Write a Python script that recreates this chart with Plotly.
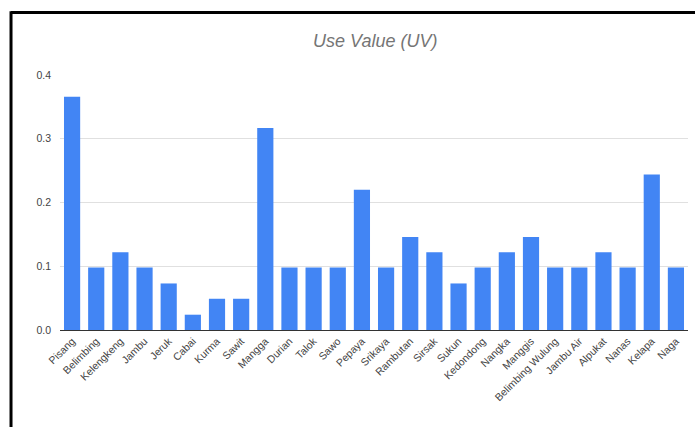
import plotly.graph_objects as go

categories = ["Pisang", "Belimbing", "Kelengkeng", "Jambu", "Jeruk", "Cabai", "Kurma", "Sawit",
              "Mangga", "Durian", "Talok", "Sawo", "Pepaya", "Srikaya", "Rambutan", "Sirsak",
              "Sukun", "Kedondong", "Nangka", "Manggis", "Belimbing Wulung", "Jambu Air",
              "Alpukat", "Nanas", "Kelapa", "Naga"]
uv_values = [0.366, 0.098, 0.122, 0.098, 0.073, 0.024, 0.049, 0.049,
             0.317, 0.098, 0.098, 0.098, 0.220, 0.098, 0.146, 0.122,
             0.073, 0.098, 0.122, 0.146, 0.098, 0.098,
             0.122, 0.098, 0.244, 0.098]
y_ticks = [0.0, 0.1, 0.2, 0.3, 0.4]

fig = go.Figure(go.Bar(x=categories, y=uv_values, marker_color="#4285F4",
                       marker_line_width=0))

fig.update_layout(
    width=695, height=427,
    margin=dict(l=60, r=7, t=75, b=97),
    paper_bgcolor="white", plot_bgcolor="white",
    bargap=0.33,
    showlegend=False,
    font=dict(family="Liberation Sans, Arial, sans-serif", color="#444"),
    title=dict(text="<i>Use Value (UV)</i>", x=0.54, xanchor="center", y=0.905, yanchor="middle",
               font=dict(size=18, color="#757575")),
    shapes=[
        dict(type="line", xref="paper", yref="paper", x0=-0.078, x1=1.02, y0=1.245, y1=1.245,
             line=dict(color="black", width=3)),
        dict(type="line", xref="paper", yref="paper", x0=-0.078, x1=-0.078, y0=1.25, y1=-0.4,
             line=dict(color="black", width=3)),
    ],
)
fig.update_xaxes(tickangle=-45, tickfont=dict(size=10.5, color="#444"), showgrid=False,
                 showline=True, linecolor="#333", linewidth=1, ticks="")
fig.update_yaxes(range=[0, 0.4], tickvals=y_ticks, tickformat=".1f",
                 tickfont=dict(size=10.5, color="#444"), gridcolor="#e0e0e0",
                 zeroline=False, showline=False, ticks="", ticklen=0,
                 ticklabelstandoff=8)

fig.write_html("out.html")
